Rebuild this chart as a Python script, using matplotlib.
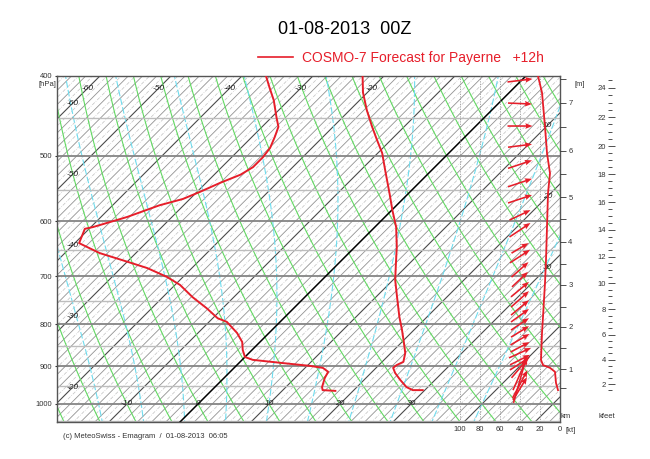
import numpy as np
import matplotlib
matplotlib.use("Agg")
import matplotlib.pyplot as plt
from matplotlib.lines import Line2D

plt.rcParams['font.family'] = ['Liberation Sans', 'DejaVu Sans']

# --- sounding ---
t_hpa = [400, 419, 440, 461, 478, 496, 520, 555, 582, 610, 645, 674, 707, 742, 784, 813,
         843, 867, 889, 897, 904, 917, 935, 954, 962, 962]
t_degc = [-23.0, -20.6, -17.6, -14.5, -12.0, -9.4, -6.6, -2.7, 0.1, 3.0, 5.9, 8.0, 10.3, 13.0,
          16.1, 18.3, 20.4, 22.0, 23.0, 22.5, 22.4, 23.4, 25.1, 27.0, 28.3, 29.7]

td_hpa = [400, 413, 428, 449, 461, 474, 489, 502, 516, 527, 539, 553, 564, 574, 593, 610,
          613, 638, 656, 672, 684, 701, 717, 742, 765, 787, 795, 820, 841, 860, 877, 884,
          892, 899, 904, 914, 930, 954, 962, 964]
td_degc = [-36.6, -34.5, -32.1, -29.3, -27.7, -26.8, -25.9, -25.6, -25.6, -26.3, -28.0, -29.6,
           -31.0, -33.4, -36.3, -39.7, -40.6, -39.4, -35.1, -30.0, -26.3, -22.3, -19.3, -15.8,
           -12.3, -9.3, -7.5, -4.5, -2.5, -1.3, 0.0, 1.5, 6.2, 10.4, 12.5, 13.8, 14.2, 15.1,
           15.6, 17.5]

# wind vectors (kt, screen east / up components)
wind_hpa = [405, 432, 460, 486, 512, 539, 564, 590, 615, 647, 662, 687, 706, 726, 746, 764,
            781, 800, 817, 835, 853, 867, 884, 893, 904, 920, 935, 946, 958]
wind_u = [25, 24, 25, 24, 24, 24, 24, 21, 21, 17, 20, 17, 16, 18, 18, 18, 18, 18, 18, 19,
          19, 22, 20, 20, 17, 14, 13, 15, 14]
wind_v = [3, -1, 0, 3, 8, 8, 8, 10, 14, 10, 13, 15, 15, 15, 16, 15, 13, 12, 11, 11, 10, 10,
          10, 13, 20, 32, 46, 28, 23]

# wind speed profile (kt)
spd_hpa = [400, 419, 461, 496, 525, 555, 610, 669, 713, 784, 820, 884, 897, 904, 914, 943, 962]
spd_kt = [22, 18, 15, 13, 10, 12, 13, 14, 15, 17, 18, 19, 17, 10, 5, 4, 2]

# height axis
km_levels = [1, 2, 3, 4, 5, 6, 7]
km_hpa = [907, 806, 717, 636, 561, 493, 431]
kft_levels = [2, 4, 6, 8, 10, 12, 14, 16, 18, 20, 22, 24]

p_levels = [400, 500, 600, 700, 800, 900, 1000]
kt_ticks = [100, 80, 60, 40, 20, 0]

RED = '#e61e2a'
P_BOT, P_TOP = 1051.6, 400.0
SKEW = 50.4          # degC per ln-unit of pressure -> 45 deg isotherms
X_LEFT, X_RIGHT = -19.86, 50.99


def skew(t, p):
    return np.asarray(t) + SKEW * np.log(1000.0 / np.asarray(p, dtype=float))


def moist_adiabat(t0, p):
    Rd, cp, Lv, eps = 287.04, 1005.7, 2.501e6, 0.622

    def dtdp(T, pp):
        es = 6.112 * np.exp(17.67 * (T - 273.15) / (T - 29.65))
        r = eps * es / (pp - es)
        return (Rd * T + Lv * r) / (cp + Lv * Lv * r * eps / (Rd * T * T)) / pp

    out = {}
    for direction in (-1, 1):
        T = t0 + 273.15
        pp = 1000.0
        while P_TOP - 5 < pp < P_BOT + 5:
            out[pp] = T - 273.15
            dp = 1.0 * direction
            T += dtdp(T, pp) * dp
            pp += dp
    ps = np.array(sorted(out))
    return ps, np.array([out[k] for k in ps])


fig = plt.figure(figsize=(6.5, 4.59), dpi=100)
ax = fig.add_axes([57 / 650, 37 / 459, 503 / 650, 346 / 459])
ax.set_yscale('log')
ax.set_ylim(P_BOT, P_TOP)
ax.set_xlim(X_LEFT, X_RIGHT)

pp = np.geomspace(P_BOT + 5, P_TOP - 5, 120)

# isotherms
for t in range(-110, 60):
    if t == 0:
        ax.plot(skew(t, pp), pp, color='black', lw=1.1, zorder=2)
    elif t % 10 == 0:
        ax.plot(skew(t, pp), pp, color='#4a4a4a', lw=0.8, zorder=1.6)
    elif t % 2 == 0:
        ax.plot(skew(t, pp), pp, color='#929292', lw=0.6, zorder=1.5)
    else:
        ax.plot(skew(t, pp), pp, color='#c2c2c2', lw=0.5, ls=(0, (5, 2, 1, 2)), zorder=1.4)

# dry adiabats
for th in range(-30, 100, 5):
    t = (th + 273.15) * (pp / 1000.0) ** 0.286 - 273.15
    ax.plot(skew(t, pp), pp, color='#62d862', lw=0.8, zorder=1.7)

# moist adiabats
for tw in range(-14, 42, 6):
    ps, ts = moist_adiabat(tw, pp)
    ax.plot(skew(ts, ps), ps, color='#6fdcee', lw=0.8, ls=(0, (6, 2)), zorder=1.7)

# isobars
for p in range(400, 1051, 50):
    if p % 100 == 0:
        ax.axhline(p, color='#858585', lw=1.3, zorder=1.8)
    else:
        ax.axhline(p, color='#bdbdbd', lw=1.0, zorder=1.8)

# sounding curves
ax.plot(skew(t_degc, t_hpa), t_hpa, color=RED, lw=1.4, zorder=4)
ax.plot(skew(td_degc, td_hpa), td_hpa, color=RED, lw=1.4, zorder=4)

# isotherm labels
lab = dict(fontsize=6, style='italic', ha='center', va='center', color='#222222', zorder=3)
for t in range(-60, -10, 10):
    ax.text(skew(t, 414), 414, str(t), **lab)
    x = -17.7
    p = 1000.0 / np.exp((x - t) / SKEW)
    ax.text(x, p, str(t), **lab)
for t in range(-10, 40, 10):
    ax.text(t, 1000, str(t), **lab)
for t in range(10, 40, 10):
    x = 49.2
    p = 1000.0 / np.exp((x - t) / SKEW)
    ax.text(x, p, str(t), **lab)

ax.set_xticks([])
ax.set_yticks(p_levels)
ax.set_yticklabels([str(p) for p in p_levels])
ax.yaxis.set_minor_locator(matplotlib.ticker.NullLocator())
ax.tick_params(axis='y', labelsize=5.5, length=3, direction='inout', pad=2, colors='#333333')
for s in ax.spines.values():
    s.set_color('#555555')
    s.set_linewidth(1.0)

# wind panel (kt axis)
ax_kt = ax.twiny()
ax_kt.set_xlim(503, 0)
for s in ax_kt.spines.values():
    s.set_visible(False)
for k in kt_ticks[:-1]:
    ax_kt.axvline(k, color='#9a9a9a', lw=0.6, ls=(0, (1.5, 1.5)), zorder=1)
ax_kt.plot(spd_kt, spd_hpa, color=RED, lw=1.3, zorder=4)
ax_kt.quiver(np.full(len(wind_hpa), 40), wind_hpa, wind_u, wind_v, color=RED,
             angles='uv', units='dots', scale_units='dots', scale=1, width=1.6,
             headwidth=3.5, headlength=4.5, headaxislength=4, pivot='middle', zorder=5)
ax_kt.xaxis.tick_bottom()
ax_kt.set_xticks(kt_ticks)
ax_kt.set_xticklabels([str(k) for k in kt_ticks])
ax_kt.tick_params(axis='x', labelsize=5.5, length=0, pad=3, colors='#333333')
ax_kt.text(-6, -0.024, '[kt]', transform=ax_kt.get_xaxis_transform(), fontsize=5.5,
           ha='left', va='center', color='#333333')

# height axes
coef = np.polyfit(km_levels, np.log(km_hpa), 2)


def km_to_hpa(z):
    return np.exp(np.polyval(coef, z))


axh = ax.twinx()
axh.set_yscale('log')
axh.set_ylim(P_BOT, P_TOP)
for s in axh.spines.values():
    s.set_visible(False)
axh.set_yticks(km_hpa)
axh.set_yticklabels([str(k) for k in km_levels])
axh.set_yticks(km_to_hpa(np.arange(0.5, 7.6, 1.0)), minor=True)
axh.yaxis.set_minor_formatter(matplotlib.ticker.NullFormatter())
axh.tick_params(axis='y', which='both', labelsize=5.5, length=4, width=0.6, pad=2,
                colors='#333333')

axf = fig.add_axes(ax.get_position(), frameon=False)
axf.set_yscale('log')
axf.set_ylim(P_BOT, P_TOP)
axf.set_xticks([])
axf.spines['left'].set_position(('axes', 1.0954))
kft_minor = np.arange(1.5, 24.6, 0.5)
axf.set_yticks(km_to_hpa(np.array(kft_levels) * 0.3048))
axf.set_yticklabels([str(k) for k in kft_levels])
axf.set_yticks(km_to_hpa(kft_minor * 0.3048), minor=True)
axf.yaxis.set_minor_formatter(matplotlib.ticker.NullFormatter())
axf.tick_params(axis='y', which='major', direction='in', length=5, width=0.6,
                labelsize=5.5, pad=1.5, colors='#333333')
axf.tick_params(axis='y', which='minor', direction='in', length=3, width=0.6, colors='#333333')

# text
fig.text(47 / 650, 1 - 84 / 459, '[hPa]', fontsize=5.5, ha='center', va='center', color='#333333')
fig.text(580 / 650, 1 - 84 / 459, '[m]', fontsize=5.5, ha='center', va='center', color='#333333')
fig.text(566 / 650, 1 - 416 / 459, 'km', fontsize=5.5, ha='center', va='center', color='#333333')
fig.text(607 / 650, 1 - 416 / 459, 'kfeet', fontsize=5.5, ha='center', va='center', color='#333333')
fig.text(345 / 650, 1 - 30 / 459, '01-08-2013  00Z', fontsize=13, ha='center', va='center')
fig.text(63 / 650, 1 - 437 / 459, '(c) MeteoSwiss - Emagram  /  01-08-2013  06:05',
         fontsize=5.5, ha='left', va='center', color='#333333')
fig.legend(handles=[Line2D([], [], color=RED, lw=1.2)],
           labels=['COSMO-7 Forecast for Payerne   +12h'],
           loc='center left', bbox_to_anchor=(258 / 650, 1 - 58 / 459), frameon=False,
           fontsize=10, handlelength=2.5, handletextpad=0.7, borderpad=0, borderaxespad=0,
           labelcolor=RED)

fig.savefig('out.png', dpi=100)
